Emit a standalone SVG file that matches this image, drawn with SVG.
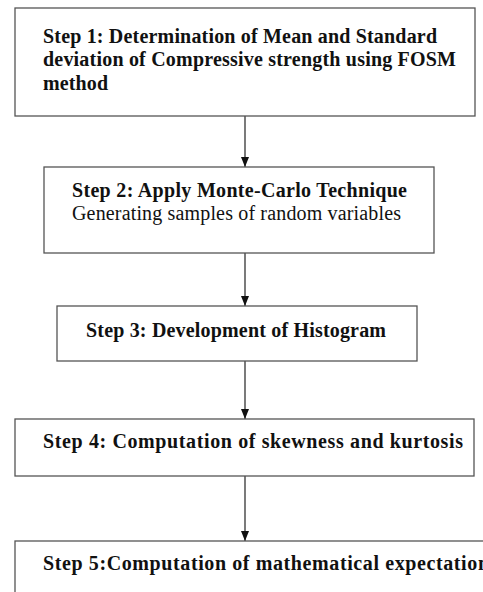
<svg xmlns="http://www.w3.org/2000/svg" width="483" height="592" viewBox="0 0 483 592">
<style>
.box{fill:#fff;stroke:#555;stroke-width:1.3}
.b{font-family:"Liberation Serif","Times New Roman",serif;font-weight:bold;font-size:20px;fill:#111}
.r{font-family:"Liberation Serif","Times New Roman",serif;font-size:20px;fill:#111}
.c{stroke:#333;stroke-width:1.3;fill:none;marker-end:url(#ah)}
</style>
<defs>
<marker id="ah" markerWidth="10" markerHeight="8" refX="10" refY="4" orient="auto" markerUnits="userSpaceOnUse" viewBox="0 0 10 8">
<path d="M0,0 L10,4 L0,8 Z" fill="#111"/>
</marker>
</defs>
<rect width="483" height="592" fill="#fff"/>
<g id="connectors">
<line class="c" x1="245" y1="116" x2="245" y2="167"/>
<line class="c" x1="245" y1="253" x2="245" y2="306"/>
<line class="c" x1="245" y1="361" x2="245" y2="419"/>
<line class="c" x1="245" y1="476" x2="245" y2="541"/>
</g>
<g id="step1">
<rect class="box" x="15" y="8" width="460" height="108"/>
<text class="b" x="43" y="43" textLength="394" lengthAdjust="spacing">Step 1: Determination of Mean and Standard</text>
<text class="b" x="43" y="66" textLength="413" lengthAdjust="spacing">deviation of Compressive strength using FOSM</text>
<text class="b" x="43" y="90" textLength="65" lengthAdjust="spacing">method</text>
</g>
<g id="step2">
<rect class="box" x="44" y="167" width="390" height="86"/>
<text class="b" x="72" y="197" textLength="335" lengthAdjust="spacing">Step 2: Apply Monte-Carlo Technique</text>
<text class="r" x="72" y="220" textLength="329" lengthAdjust="spacing">Generating samples of random variables</text>
</g>
<g id="step3">
<rect class="box" x="57" y="306" width="360" height="55"/>
<text class="b" x="86" y="337" textLength="300" lengthAdjust="spacing">Step 3: Development of Histogram</text>
</g>
<g id="step4">
<rect class="box" x="15" y="419" width="459" height="57"/>
<text class="b" x="43" y="448" textLength="420" lengthAdjust="spacing">Step 4: Computation of skewness and kurtosis</text>
</g>
<g id="step5">
<rect class="box" x="15" y="541" width="480" height="60"/>
<text class="b" x="43" y="570" textLength="446" lengthAdjust="spacing">Step 5:Computation of mathematical expectation</text>
</g>
</svg>
